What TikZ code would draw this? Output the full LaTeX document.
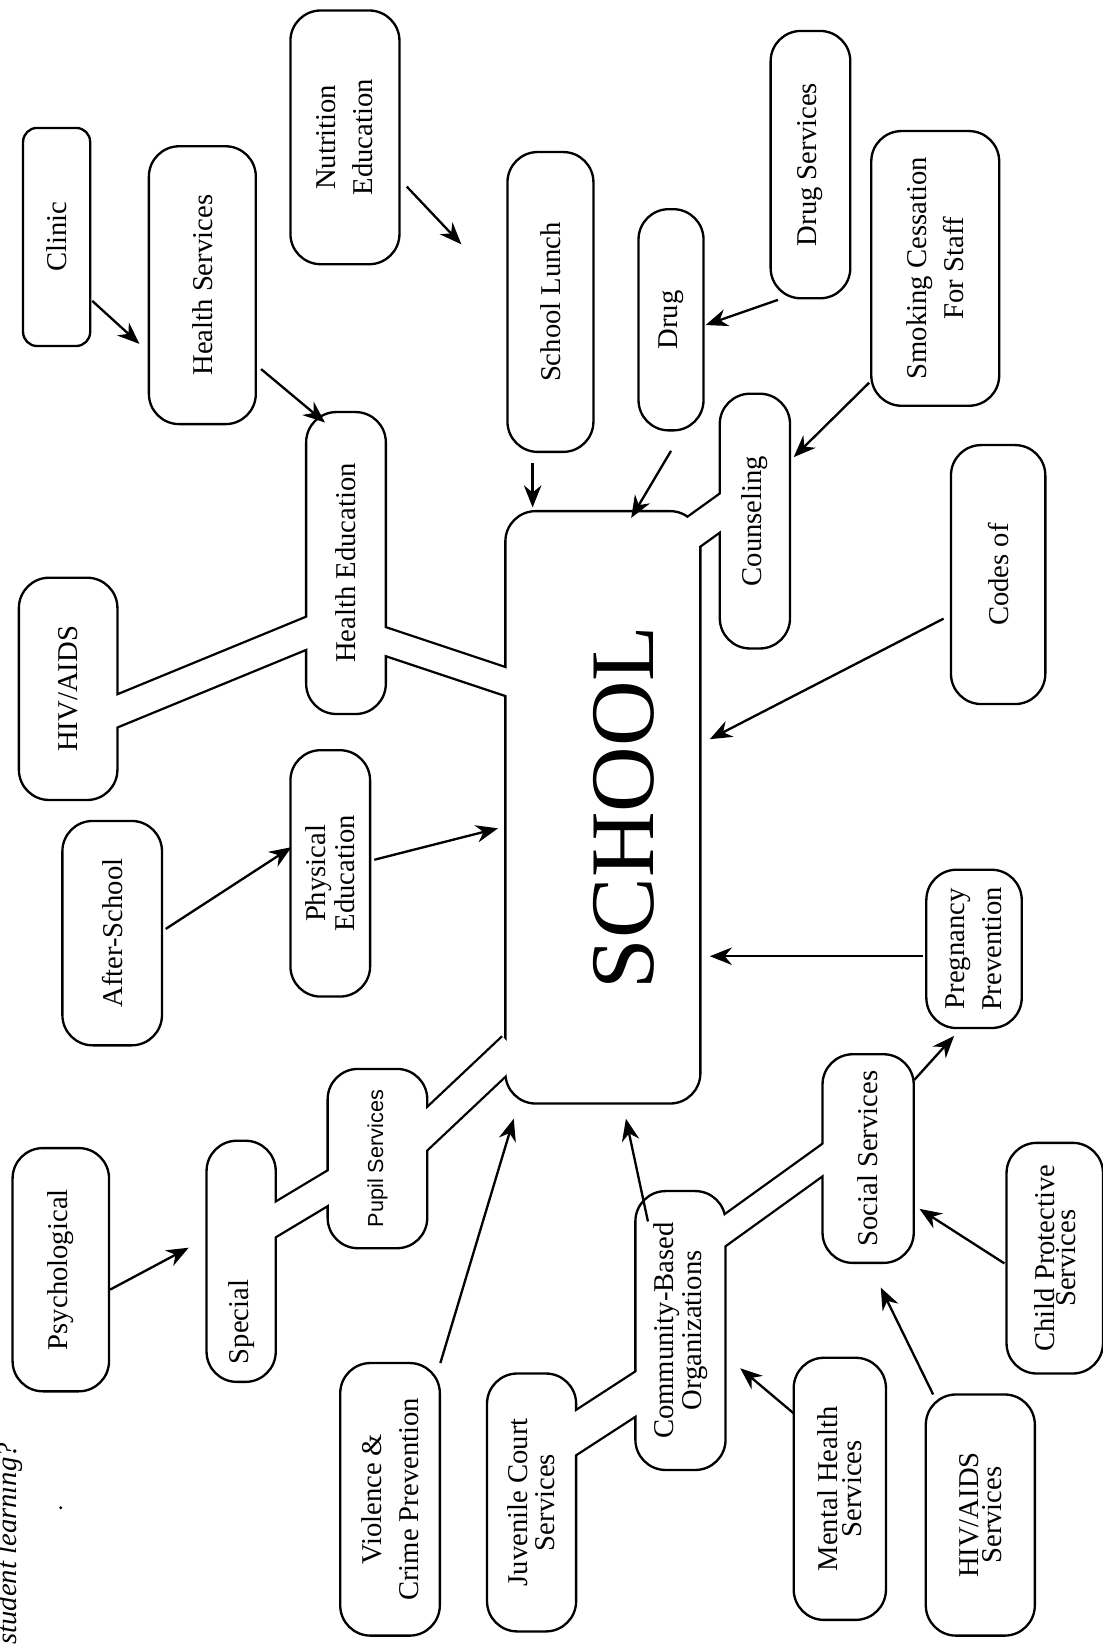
\documentclass[tikz,border=0pt]{standalone}
\usepackage{fontspec}
\setmainfont{Liberation Serif}
\newfontfamily\pupilfont{Liberation Sans}
\usetikzlibrary{arrows.meta,calc,backgrounds}

\newcommand\lbl{\fontsize{12.3}{16}\selectfont}
\newcommand\lbltight{\fontsize{12.3}{10}\selectfont}

\tikzset{
  box/.style 2 args={draw, line width=1pt, rounded corners=13pt, fill=white, rotate=90,
    align=center, inner sep=0pt, font=\lbl,
    minimum width=#2*0.45pt, minimum height=#1*0.45pt},
  tight/.style={font=\lbltight},
  arr/.style={line width=1pt, -{Stealth[length=9.5pt,width=7.5pt]}},
  pipe/.style={line width=#1*0.45pt+2pt, shorten <=-7pt, shorten >=-7pt},
  core/.style={white, line width=#1*0.45pt, shorten <=-7pt, shorten >=-7pt}
}

\begin{document}
\begin{tikzpicture}[x=0.45pt, y=-0.45pt]
  \useasboundingbox (0,0) rectangle (1052,1568);

  \node[box={64}{208}, rounded corners=6pt] (clinic) at (54,226) {Clinic};
  \node[box={102}{265}] (hserv) at (193,272) {Health Services};
  \node[box={104}{242}] (nutr) at (329,131) {Nutrition\\Education};
  \node[box={82}{286}] (lunch) at (525,288) {School Lunch};
  \node[box={62}{211}] (drug) at (640,305) {Drug};
  \node[box={76}{255}] (drugserv) at (773,157) {Drug Services};
  \node[box={122}{262}] (smoking) at (892,256) {Smoking Cessation\\For Staff};
  \node[box={76}{288}] (healthed) at (330,537) {Health Education};
  \node[box={94}{212}] (hiv) at (65,657) {HIV/AIDS};
  \node[box={67}{243}] (couns) at (720,497) {Counseling};
  \node[box={186}{565}, font=\fontsize{39}{40}\selectfont, text height=44pt] (school) at (575,770) {SCHOOL};
  \node[box={90}{247}] (codes) at (952,548) {Codes of};
  \node[box={76}{235}, tight] (physed) at (315,833) {Physical\\Education};
  \node[box={95}{214}] (after) at (107,890) {After-School};
  \node[box={91}{151}] (preg) at (929,905) {Pregnancy\\Prevention};
  \node[box={92}{232}] (psych) at (58,1211) {Psychological};
  \node[box={66}{230}] (special) at (230,1203) {Special\rule{52pt}{0pt}};
  \node[box={95}{171}, font=\pupilfont\fontsize{9.3}{11}\selectfont] (pupil) at (360,1105) {Pupil Services};
  \node[box={87}{199}] (social) at (828,1105) {Social Services};
  \node[box={92}{220}, tight] (child) at (1006,1200) {Child Protective\\[-1pt]Services};
  \node[box={86}{266}, tight] (cbo) at (649,1269) {Community-Based\\Organizations};
  \node[box={95}{260}] (violence) at (372,1430) {Violence \&\\Crime Prevention};
  \node[box={85}{246}, tight] (juvenile) at (507,1433) {Juvenile Court\\[1.5pt]Services};
  \node[box={88}{250}, tight] (mental) at (801,1420) {Mental Health\\Services};
  \node[box={104}{230}, tight] (hivserv) at (935,1445) {HIV/AIDS\\Services};

  \node[rotate=90, anchor=base east, inner sep=0pt, font=\fontsize{12.3}{14}\selectfont\itshape] (note) at (16,1376) {student learning?};
  \fill (58,1438) circle (0.7pt);

  \coordinate (hiv-r) at ($(hiv)+(47,21)$);
  \coordinate (he-l) at ($(healthed)+(-38,67)$);
  \coordinate (he-r) at ($(healthed)+(38,75)$);
  \coordinate (sch-l) at ($(school)+(-93,-120)$);
  \coordinate (sch-ne) at ($(school)+(80,-258)$);
  \coordinate (cou-l) at ($(couns)+(-33,-8)$);
  \coordinate (spe-r) at ($(special)+(33,-40)$);
  \coordinate (pup-l) at ($(pupil)+(-47,28)$);
  \coordinate (pup-r) at ($(pupil)+(48,-29)$);
  \coordinate (sch-sw) at ($(school)+(-97,240)$);
  \coordinate (juv-r) at ($(juvenile)+(43,-67)$);
  \coordinate (cbo-l) at ($(cbo)+(-42,60)$);
  \coordinate (cbo-r) at ($(cbo)+(43,-96)$);
  \coordinate (soc-l) at ($(social)+(-43,1)$);

  \foreach \a/\b/\w in {hiv-r/he-l/27, he-r/sch-l/24, sch-ne/cou-l/28, spe-r/pup-l/27,
      pup-r/sch-sw/28, juv-r/cbo-l/34, cbo-r/soc-l/23} {
    \begin{scope}[on background layer]
      \draw[pipe=\w] (\a) -- (\b);
    \end{scope}
    \draw[core=\w] (\a) -- (\b);
  }

  \coordinate (nutrend) at (440,233);
  \coordinate (psychend) at (180,1190);

  \draw[arr] ($(clinic)+(34,61)$) -- ($(hserv)+(-60,56)$);
  \draw[arr] ($(hserv)+(56,80)$) -- ($(healthed)+(-20,-134)$);
  \draw[arr] ($(nutr)+(59,47)$) -- (nutrend);
  \draw[arr] ($(lunch)+(-17,154)$) -- ($(school)+(-67,-286)$);
  \draw[arr] ($(drug)+(0,125)$) -- ($(school)+(27,-276)$);
  \draw[arr] ($(drugserv)+(-31,129)$) -- ($(drug)+(33,5)$);
  \draw[arr] ($(smoking)+(-63,109)$) -- ($(couns)+(37,-61)$);
  \draw[arr] ($(codes)+(-52,42)$) -- ($(school)+(102,-65)$);
  \draw[arr] ($(physed)+(42,-13)$) -- ($(school)+(-100,20)$);
  \draw[arr] ($(after)+(51,-4)$) -- ($(physed)+(-37,-25)$);
  \draw[arr] ($(preg)+(-49,7)$) -- ($(school)+(102,142)$);
  \draw[arr] ($(social)+(44,-75)$) -- ($(preg)+(-19,83)$);
  \draw[arr] ($(psych)+(47,19)$) -- (psychend);
  \draw[arr] ($(violence)+(48,-130)$) -- ($(school)+(-85,297)$);
  \draw[arr] ($(cbo)+(-31,-104)$) -- ($(school)+(22,297)$);
  \draw[arr] ($(mental)+(-44,-72)$) -- ($(cbo)+(57,36)$);
  \draw[arr] ($(child)+(-48,5)$) -- ($(social)+(49,48)$);
  \draw[arr] ($(hivserv)+(-45,-115)$) -- ($(social)+(12,123)$);
\end{tikzpicture}
\end{document}
